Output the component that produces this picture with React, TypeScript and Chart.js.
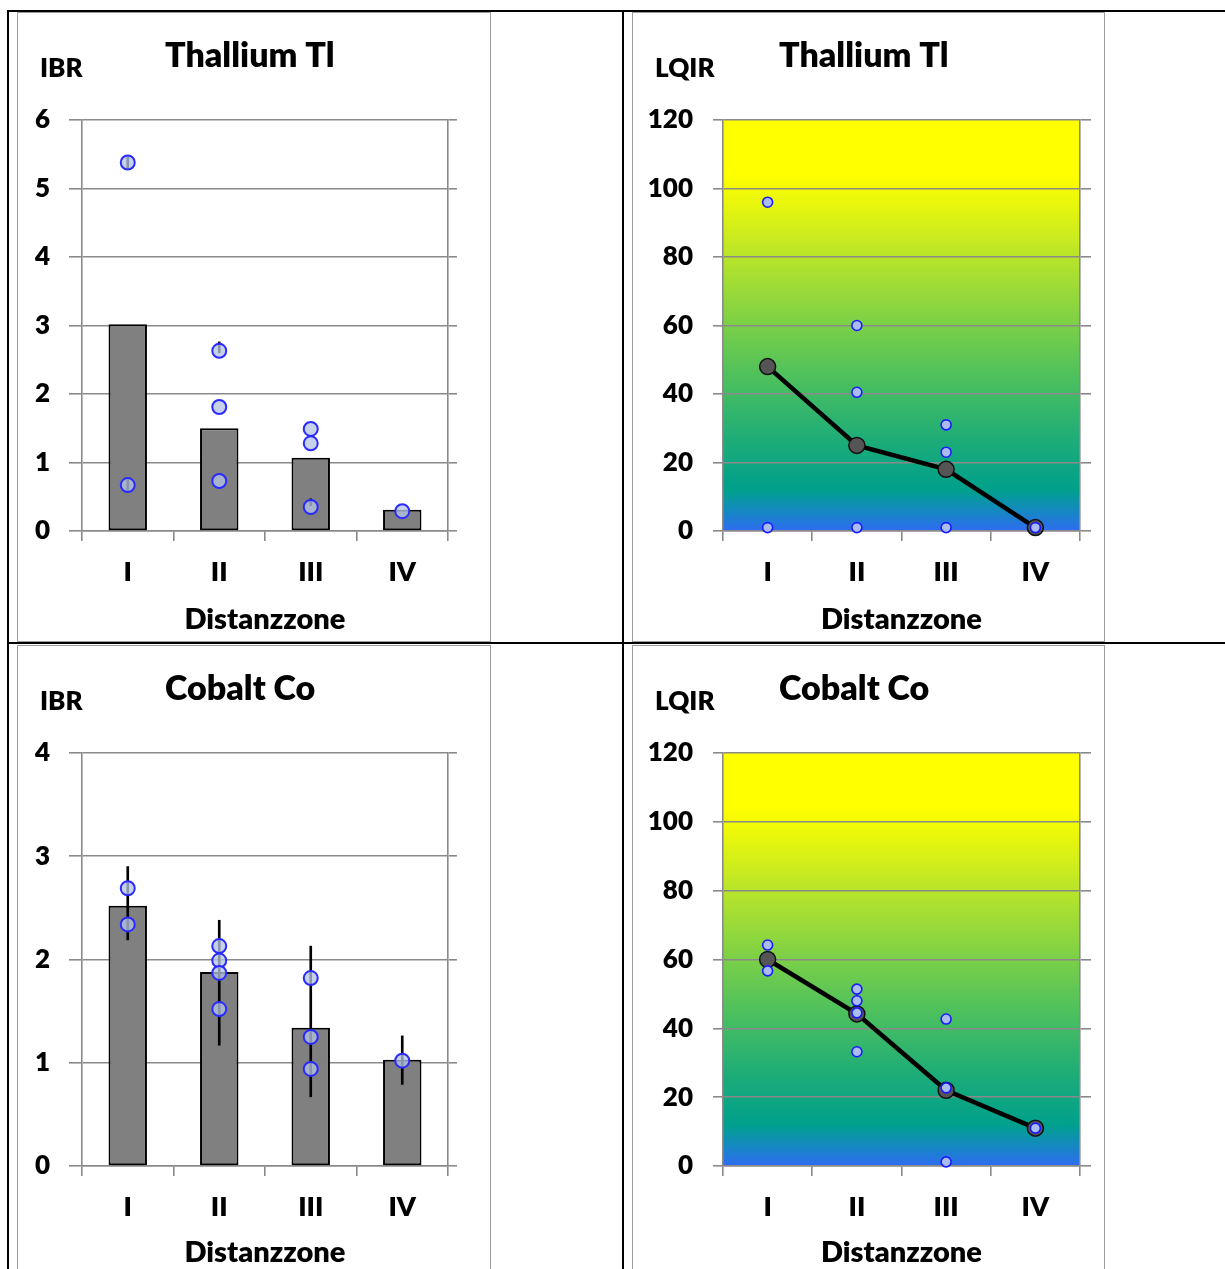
import React, { useEffect, useRef } from 'react';
import { Chart, registerables } from 'chart.js';

Chart.register(...registerables);

// ---------- data ----------
const categories = ['I', 'II', 'III', 'IV'];
const xAxisTitle = 'Distanzzone';

const thalliumTitle = 'Thallium Tl';
const cobaltTitle = 'Cobalt Co';
const ibrLabel = 'IBR';
const lqirLabel = 'LQIR';

// IBR y-axis ticks
const thalliumIbrTicks = [0, 1, 2, 3, 4, 5, 6];
const cobaltIbrTicks = [0, 1, 2, 3, 4];
// LQIR y-axis ticks
const lqirTicks = [0, 20, 40, 60, 80, 100, 120];

// Thallium – IBR
const thalliumIbrBars = [3.02, 1.5, 1.07, 0.31];
const thalliumIbrPoints = [[5.38, 0.67], [2.63, 1.81, 0.73], [1.49, 1.28, 0.35], [0.29]];
const thalliumIbrErrUpper = [[5.3, 5.46], [2.6, 2.76], null, null];
const thalliumIbrErrLower = [[0.59, 0.75], null, [0.37, 0.47], null];

// Cobalt – IBR
const cobaltIbrBars = [2.52, 1.88, 1.34, 1.03];
const cobaltIbrErr = [[2.19, 2.9], [1.17, 2.38], [0.67, 2.13], [0.79, 1.26]];
const cobaltIbrPoints = [[2.69, 2.34], [2.13, 1.99, 1.87, 1.52], [1.82, 1.25, 0.94], [1.02]];

// Thallium – LQIR
const thalliumLqirLine = [48, 25, 18, 1];
const thalliumLqirPoints = [[96, 1], [60, 40.5, 1], [31, 23, 1], [1]];

// Cobalt – LQIR
const cobaltLqirLine = [60, 44.2, 22, 11];
const cobaltLqirPoints = [[64.2, 56.7], [51.4, 48, 44.5, 33.2], [42.7, 22.7, 1.2], [11]];

// ---------- styling ----------
const FONT = 'Lato, "Open Sans", "DejaVu Sans", sans-serif';
const WEIGHT = '800';
const GRID = '#8a8a8a';
const GRID_W = 1.6;

const gradientStops: [number, string][] = [
  [0, '#2f6cf2'],
  [0.05, '#1489c0'],
  [0.1, '#00a08c'],
  [0.22, '#1dac78'],
  [0.38, '#4fc15c'],
  [0.52, '#82d244'],
  [0.68, '#bde627'],
  [0.8, '#eaf70b'],
  [0.87, '#ffff00'],
  [1, '#ffff00'],
];

const toXY = (groups: number[][]) =>
  groups.flatMap((vals, i) => vals.map((v) => ({ x: categories[i], y: v })));

const gradientPlugin = {
  id: 'lqirBg',
  beforeDraw(chart: any, _a: any, opts: any) {
    if (!opts || !opts.enabled) return;
    const { ctx, chartArea: a, scales } = chart;
    const y = scales.y;
    const g = ctx.createLinearGradient(0, y.getPixelForValue(y.min), 0, y.getPixelForValue(y.max));
    gradientStops.forEach(([o, c]) => g.addColorStop(o, c));
    ctx.save();
    ctx.fillStyle = g;
    ctx.fillRect(a.left, a.top, a.right - a.left, a.bottom - a.top);
    ctx.restore();
  },
};

const textPlugin = {
  id: 'panelText',
  afterDraw(chart: any, _a: any, o: any) {
    const ctx = chart.ctx;
    ctx.save();
    ctx.fillStyle = '#000';
    ctx.textBaseline = 'alphabetic';
    ctx.textAlign = 'left';
    ctx.font = `${WEIGHT} ${o.titleSize}px ${FONT}`;
    ctx.fillText(o.title, o.titleX, o.titleY);
    ctx.font = `${WEIGHT} ${o.unitSize}px ${FONT}`;
    ctx.fillText(o.unit, o.unitX, o.unitY);
    ctx.restore();
  },
};

type PanelSpec = {
  kind: 'ibr' | 'lqir';
  title: string;
  unit: string;
  box: { left: number; top: number; width: number; height: number };
  plot: { left: number; right: number; top: number; bottom: number };
  ticks: number[];
  bars?: number[];
  errs?: (number[] | null)[][];
  points: number[][];
  line?: number[];
};

const panels: PanelSpec[] = [
  {
    kind: 'ibr',
    title: thalliumTitle,
    unit: ibrLabel,
    box: { left: 17, top: 12, width: 474, height: 630 },
    plot: { left: 82, right: 448, top: 120, bottom: 531 },
    ticks: thalliumIbrTicks,
    bars: thalliumIbrBars,
    errs: [thalliumIbrErrUpper, thalliumIbrErrLower],
    points: thalliumIbrPoints,
  },
  {
    kind: 'lqir',
    title: thalliumTitle,
    unit: lqirLabel,
    box: { left: 632, top: 12, width: 473, height: 630 },
    plot: { left: 723, right: 1080, top: 120, bottom: 531 },
    ticks: lqirTicks,
    points: thalliumLqirPoints,
    line: thalliumLqirLine,
  },
  {
    kind: 'ibr',
    title: cobaltTitle,
    unit: ibrLabel,
    box: { left: 17, top: 645, width: 474, height: 630 },
    plot: { left: 82, right: 448, top: 753, bottom: 1166 },
    ticks: cobaltIbrTicks,
    bars: cobaltIbrBars,
    errs: [cobaltIbrErr],
    points: cobaltIbrPoints,
  },
  {
    kind: 'lqir',
    title: cobaltTitle,
    unit: lqirLabel,
    box: { left: 632, top: 645, width: 473, height: 630 },
    plot: { left: 723, right: 1080, top: 753, bottom: 1166 },
    ticks: lqirTicks,
    points: cobaltLqirPoints,
    line: cobaltLqirLine,
  },
];

function buildConfig(p: PanelSpec): any {
  const cL = p.box.left + 1;
  const cT = p.box.top + 1;
  const W = p.box.width - 2;
  const H = p.box.height - 2;
  const isIbr = p.kind === 'ibr';
  const leftTick = isIbr ? 13 : 10;
  const rightTick = isIbr ? 9 : 11;
  const plotL = p.plot.left - cL;
  const plotR = p.plot.right - cL;
  const plotT = p.plot.top - cT;
  const plotB = p.plot.bottom - cT;
  const yMin = p.ticks[0];
  const yMax = p.ticks[p.ticks.length - 1];
  const step = p.ticks[1] - p.ticks[0];

  const datasets: any[] = [];
  if (isIbr) {
    datasets.push({
      type: 'line',
      data: toXY(p.points),
      showLine: false,
      pointRadius: 7,
      pointBorderWidth: 2,
      pointBorderColor: '#2a2aff',
      pointBackgroundColor: 'rgba(180,195,228,0.76)',
      clip: false,
      order: 0,
    });
    (p.errs || []).forEach((e) =>
      datasets.push({
        type: 'bar',
        data: e,
        backgroundColor: '#000',
        borderWidth: 0,
        barThickness: 2,
        grouped: false,
        order: 1,
      })
    );
    datasets.push({
      type: 'bar',
      data: p.bars,
      backgroundColor: '#808080',
      borderColor: '#000',
      borderWidth: 2,
      borderSkipped: false,
      grouped: false,
      barPercentage: 0.42,
      categoryPercentage: 1,
      order: 2,
    });
  } else {
    datasets.push({
      type: 'line',
      data: toXY(p.points),
      showLine: false,
      pointRadius: 5,
      pointBorderWidth: 1.6,
      pointBorderColor: '#1a1aff',
      pointBackgroundColor: '#a9bdf2',
      clip: false,
      order: 0,
    });
    datasets.push({
      type: 'line',
      data: p.line,
      borderColor: '#000',
      borderWidth: 4.5,
      tension: 0,
      pointRadius: 8,
      pointBackgroundColor: '#555555',
      pointBorderColor: '#111',
      pointBorderWidth: 1.5,
      clip: false,
      order: 1,
    });
  }

  return {
    type: 'bar',
    data: { labels: categories, datasets },
    plugins: [gradientPlugin, textPlugin],
    options: {
      responsive: false,
      animation: false,
      devicePixelRatio: 1,
      events: [],
      layout: { padding: { left: 0, top: plotT, right: W - plotR - rightTick, bottom: 0 } },
      plugins: {
        legend: { display: false },
        tooltip: { enabled: false },
        title: { display: false },
        lqirBg: { enabled: !isIbr },
        panelText: {
          title: p.title,
          unit: p.unit,
          titleSize: 34,
          unitSize: 26,
          titleX: p.kind === 'ibr' ? 147 : 146,
          titleY: 54,
          unitX: 22,
          unitY: 64,
        },
      },
      scales: {
        x: {
          type: 'category',
          offset: true,
          grid: {
            offset: true,
            drawOnChartArea: false,
            drawTicks: true,
            tickLength: 10,
            color: GRID,
            lineWidth: GRID_W,
          },
          border: { display: true, color: GRID, width: GRID_W },
          ticks: { color: '#000', padding: 15, font: { family: FONT, size: 27, weight: WEIGHT } },
          title: {
            display: true,
            text: xAxisTitle,
            color: '#000',
            font: { family: FONT, size: 29, weight: WEIGHT },
            padding: { top: 0, bottom: 4 },
          },
          afterFit: (s: any) => {
            s.height = H - plotB;
          },
        },
        y: {
          position: 'left',
          min: yMin,
          max: yMax,
          ticks: {
            stepSize: step,
            color: '#000',
            padding: isIbr ? 19 : 20,
            font: { family: FONT, size: 26, weight: WEIGHT },
          },
          grid: { color: GRID, lineWidth: GRID_W, tickLength: leftTick, drawTicks: true },
          border: { display: true, color: GRID, width: GRID_W },
          afterFit: (s: any) => {
            s.width = plotL;
          },
        },
        y2: {
          position: 'right',
          min: yMin,
          max: yMax,
          ticks: { stepSize: step, color: 'rgba(0,0,0,0)', padding: 0, font: { size: 1 } },
          grid: { drawOnChartArea: false, color: GRID, lineWidth: GRID_W, tickLength: rightTick, drawTicks: true },
          border: { display: true, color: GRID, width: GRID_W },
          afterFit: (s: any) => {
            s.width = rightTick;
          },
        },
      },
    },
  };
}

function Panel({ spec }: { spec: PanelSpec }) {
  const ref = useRef<HTMLCanvasElement | null>(null);
  useEffect(() => {
    if (!ref.current) return;
    const chart = new Chart(ref.current, buildConfig(spec));
    return () => chart.destroy();
  }, [spec]);
  const W = spec.box.width - 2;
  const H = spec.box.height - 2;
  return (
    <div
      style={{
        position: 'absolute',
        left: spec.box.left,
        top: spec.box.top,
        width: spec.box.width,
        height: spec.box.height,
        border: '1px solid #9c9c9c',
        boxSizing: 'border-box',
        background: '#fff',
      }}
    >
      <canvas ref={ref} width={W} height={H} style={{ display: 'block', width: W, height: H }} />
    </div>
  );
}

const line = (s: React.CSSProperties) => (
  <div style={{ position: 'absolute', background: '#000', ...s }} />
);

export default function App() {
  return (
    <div
      style={{
        position: 'absolute',
        left: 0,
        top: 0,
        width: 1225,
        height: 1269,
        overflow: 'hidden',
        background: '#fff',
      }}
    >
      {panels.map((p, i) => (
        <Panel key={i} spec={p} />
      ))}
      {line({ left: 7, top: 10, width: 1218, height: 2 })}
      {line({ left: 7, top: 10, width: 2, height: 1259 })}
      {line({ left: 622, top: 10, width: 2, height: 1259 })}
      {line({ left: 7, top: 642, width: 1218, height: 2 })}
    </div>
  );
}
